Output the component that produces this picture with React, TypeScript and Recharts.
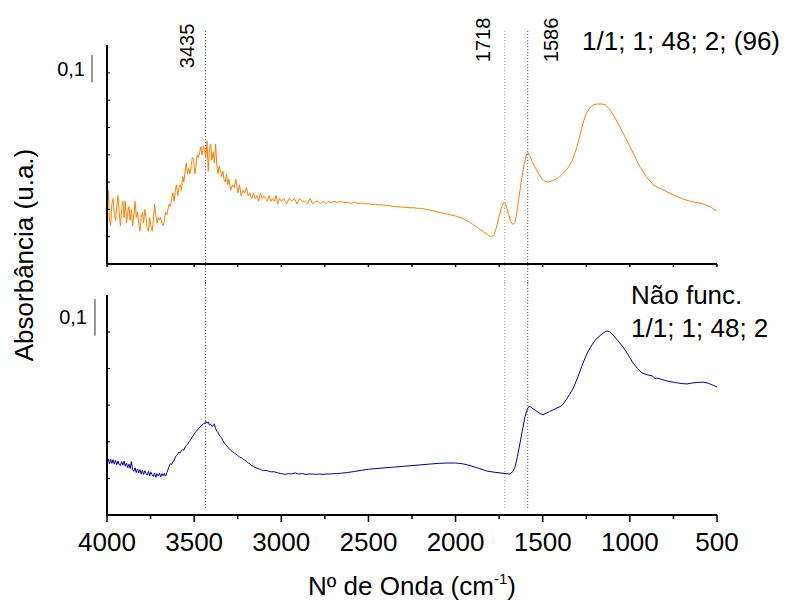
import React from 'react';
import { LineChart, Line, XAxis, YAxis, ReferenceLine } from 'recharts';

// ---- data ----
const xTicks = [4000, 3750, 3500, 3250, 3000, 2750, 2500, 2250, 2000, 1750, 1500, 1250, 1000, 750, 500];
const peakPositions = [3435, 1718, 1586];
const peakLabels = ['3435', '1718', '1586'];
const topYTicks = [0.1, 0.2, 0.3, 0.4, 0.5, 0.6, 0.7];
const bottomYTicks = [0.1, 0.2, 0.3, 0.4, 0.5];
const topAnnotation = '1/1; 1; 48; 2; (96)';
const bottomAnnotation = ['Não func.', '1/1; 1; 48; 2'];
const scaleLabel = '0,1';
const xTitle = 'Nº de Onda (cm';
const xTitleSup = '-1';
const yTitle = 'Absorbância (u.a.)';

// functionalised sample (orange): [wavenumber, absorbance]
const funcSpectrum: [number, number][] = [
  [4000, 0.25], [3993, 0.27], [3986, 0.16], [3979, 0.14], [3972, 0.22], [3965, 0.24], [3958, 0.18], [3951, 0.16],
  [3944, 0.21], [3937, 0.25], [3930, 0.19], [3923, 0.14], [3916, 0.2], [3909, 0.23], [3902, 0.17], [3895, 0.23],
  [3888, 0.15], [3881, 0.19], [3874, 0.21], [3867, 0.16], [3860, 0.2], [3853, 0.14], [3846, 0.18], [3839, 0.23],
  [3832, 0.17], [3825, 0.19], [3818, 0.15], [3811, 0.12], [3804, 0.17], [3797, 0.19], [3790, 0.15], [3783, 0.2],
  [3776, 0.17], [3769, 0.13], [3762, 0.12], [3755, 0.17], [3748, 0.14], [3741, 0.12], [3734, 0.16], [3727, 0.22],
  [3720, 0.18], [3713, 0.15], [3706, 0.17], [3699, 0.16], [3692, 0.17], [3685, 0.15], [3678, 0.14], [3671, 0.16],
  [3664, 0.19], [3657, 0.18], [3650, 0.2], [3643, 0.22], [3636, 0.21], [3629, 0.24], [3622, 0.26], [3615, 0.23],
  [3608, 0.27], [3601, 0.29], [3594, 0.25], [3587, 0.28], [3580, 0.29], [3573, 0.27], [3566, 0.32], [3559, 0.3],
  [3552, 0.34], [3545, 0.37], [3538, 0.33], [3531, 0.35], [3524, 0.33], [3517, 0.36], [3510, 0.39], [3503, 0.38],
  [3496, 0.33], [3489, 0.36], [3482, 0.4], [3475, 0.39], [3468, 0.41], [3461, 0.43], [3454, 0.4], [3447, 0.43],
  [3440, 0.42], [3433, 0.39], [3426, 0.45], [3419, 0.34], [3412, 0.42], [3405, 0.44], [3398, 0.38], [3391, 0.41],
  [3384, 0.37], [3377, 0.44], [3370, 0.36], [3363, 0.33], [3356, 0.36], [3349, 0.34], [3342, 0.32], [3335, 0.34],
  [3328, 0.31], [3321, 0.3], [3314, 0.33], [3307, 0.29], [3300, 0.31], [3290, 0.27], [3280, 0.29], [3270, 0.28],
  [3260, 0.31], [3250, 0.26], [3240, 0.29], [3230, 0.25], [3220, 0.27], [3210, 0.26], [3200, 0.28], [3190, 0.25],
  [3180, 0.26], [3170, 0.24], [3160, 0.26], [3150, 0.24], [3140, 0.25], [3130, 0.23], [3120, 0.26], [3110, 0.24],
  [3100, 0.25], [3090, 0.24], [3080, 0.23], [3070, 0.25], [3060, 0.23], [3050, 0.24], [3040, 0.23], [3030, 0.25],
  [3020, 0.22], [3010, 0.24], [3000, 0.23], [2985, 0.24], [2970, 0.22], [2955, 0.24], [2940, 0.23], [2925, 0.24],
  [2910, 0.22], [2895, 0.24], [2880, 0.23], [2865, 0.23], [2850, 0.22], [2835, 0.24], [2820, 0.22], [2805, 0.23],
  [2790, 0.23], [2775, 0.22], [2760, 0.23], [2745, 0.22], [2730, 0.23], [2715, 0.225], [2700, 0.23], [2680, 0.225],
  [2660, 0.23], [2640, 0.225], [2620, 0.226], [2600, 0.222], [2580, 0.226], [2560, 0.222], [2540, 0.224], [2520, 0.22],
  [2500, 0.221], [2480, 0.218], [2460, 0.219], [2440, 0.216], [2420, 0.217], [2400, 0.214], [2380, 0.214], [2360, 0.211],
  [2340, 0.211], [2320, 0.209], [2300, 0.208], [2280, 0.207], [2260, 0.206], [2240, 0.206], [2220, 0.204], [2200, 0.204],
  [2150, 0.198], [2100, 0.19], [2050, 0.183], [2000, 0.176], [1960, 0.167], [1920, 0.153], [1880, 0.136], [1840, 0.118],
  [1810, 0.104], [1795, 0.099], [1780, 0.107], [1765, 0.135], [1750, 0.175], [1735, 0.21], [1722, 0.226], [1710, 0.215],
  [1698, 0.186], [1685, 0.158], [1672, 0.145], [1660, 0.152], [1648, 0.19], [1635, 0.25], [1620, 0.315], [1605, 0.37],
  [1592, 0.403], [1584, 0.407], [1575, 0.398], [1560, 0.375], [1544, 0.355], [1525, 0.333], [1505, 0.312], [1485, 0.302],
  [1470, 0.3], [1440, 0.306], [1410, 0.316], [1385, 0.33], [1355, 0.352], [1330, 0.38], [1303, 0.429], [1285, 0.475],
  [1269, 0.516], [1250, 0.552], [1229, 0.571], [1210, 0.583], [1190, 0.586], [1160, 0.586], [1140, 0.583], [1114, 0.564],
  [1085, 0.535], [1057, 0.502], [1030, 0.468], [999, 0.429], [970, 0.392], [942, 0.355], [905, 0.32], [867, 0.29],
  [855, 0.287], [845, 0.282], [820, 0.275], [787, 0.264], [740, 0.25], [695, 0.238], [650, 0.229], [598, 0.223],
  [570, 0.218], [540, 0.21], [500, 0.194],
];

// non-functionalised sample (navy): [wavenumber, absorbance]
const plainSpectrum: [number, number][] = [
  [4000, 0.146], [3993, 0.153], [3986, 0.14], [3979, 0.152], [3972, 0.141], [3965, 0.151], [3958, 0.139], [3951, 0.149],
  [3944, 0.137], [3937, 0.147], [3930, 0.138], [3923, 0.135], [3916, 0.146], [3909, 0.136], [3902, 0.147], [3895, 0.133],
  [3888, 0.142], [3881, 0.129], [3874, 0.139], [3867, 0.127], [3860, 0.146], [3853, 0.124], [3846, 0.119], [3839, 0.129],
  [3832, 0.116], [3825, 0.126], [3818, 0.115], [3811, 0.124], [3804, 0.112], [3797, 0.123], [3790, 0.111], [3783, 0.121],
  [3776, 0.113], [3769, 0.109], [3762, 0.119], [3755, 0.107], [3748, 0.117], [3741, 0.11], [3734, 0.105], [3727, 0.115],
  [3720, 0.103], [3713, 0.113], [3706, 0.106], [3699, 0.114], [3692, 0.104], [3685, 0.113], [3678, 0.107], [3671, 0.114],
  [3664, 0.106], [3657, 0.115], [3650, 0.124], [3643, 0.134], [3636, 0.14], [3629, 0.138], [3622, 0.146], [3615, 0.148],
  [3608, 0.158], [3601, 0.163], [3594, 0.166], [3587, 0.172], [3580, 0.17], [3573, 0.176], [3566, 0.178], [3559, 0.177],
  [3552, 0.186], [3545, 0.19], [3538, 0.193], [3531, 0.199], [3524, 0.203], [3517, 0.208], [3510, 0.214], [3503, 0.218],
  [3496, 0.224], [3489, 0.228], [3482, 0.232], [3475, 0.236], [3468, 0.24], [3461, 0.242], [3454, 0.246], [3447, 0.249],
  [3440, 0.25], [3433, 0.256], [3426, 0.251], [3419, 0.254], [3412, 0.246], [3405, 0.248], [3398, 0.242], [3391, 0.244],
  [3384, 0.249], [3377, 0.236], [3370, 0.229], [3363, 0.225], [3356, 0.218], [3349, 0.214], [3342, 0.21], [3335, 0.203],
  [3328, 0.198], [3321, 0.193], [3314, 0.19], [3307, 0.185], [3300, 0.182], [3290, 0.177], [3280, 0.173], [3270, 0.17],
  [3260, 0.166], [3250, 0.163], [3240, 0.158], [3230, 0.157], [3220, 0.152], [3210, 0.15], [3200, 0.147], [3190, 0.142],
  [3180, 0.14], [3170, 0.135], [3160, 0.133], [3150, 0.13], [3140, 0.128], [3130, 0.126], [3120, 0.125], [3110, 0.122],
  [3100, 0.122], [3080, 0.121], [3060, 0.118], [3040, 0.118], [3020, 0.115], [3000, 0.113], [2980, 0.111], [2960, 0.113],
  [2940, 0.112], [2920, 0.115], [2900, 0.112], [2880, 0.113], [2860, 0.111], [2840, 0.112], [2820, 0.112], [2800, 0.111],
  [2780, 0.112], [2760, 0.111], [2740, 0.112], [2720, 0.112], [2700, 0.113], [2680, 0.113], [2660, 0.114], [2620, 0.116],
  [2580, 0.119], [2540, 0.122], [2500, 0.125], [2450, 0.127], [2400, 0.129], [2350, 0.131], [2300, 0.133], [2250, 0.135],
  [2200, 0.137], [2150, 0.139], [2100, 0.141], [2050, 0.142], [2000, 0.142], [1960, 0.14], [1917, 0.135], [1870, 0.128],
  [1820, 0.12], [1780, 0.117], [1745, 0.115], [1710, 0.113], [1688, 0.112], [1672, 0.118], [1659, 0.131], [1645, 0.16],
  [1630, 0.197], [1615, 0.235], [1602, 0.268], [1588, 0.29], [1578, 0.297], [1568, 0.295], [1555, 0.29], [1544, 0.287],
  [1530, 0.282], [1515, 0.277], [1498, 0.274], [1480, 0.278], [1460, 0.283], [1441, 0.287], [1420, 0.292], [1400, 0.296],
  [1384, 0.302], [1365, 0.315], [1345, 0.33], [1326, 0.345], [1300, 0.375], [1269, 0.415], [1245, 0.442], [1217, 0.465],
  [1195, 0.48], [1171, 0.49], [1150, 0.498], [1131, 0.503], [1115, 0.5], [1097, 0.492], [1070, 0.477], [1039, 0.459],
  [1010, 0.438], [982, 0.415], [955, 0.4], [930, 0.388], [900, 0.383], [873, 0.38], [865, 0.378], [856, 0.372],
  [845, 0.374], [820, 0.371], [787, 0.366], [740, 0.362], [700, 0.359], [672, 0.358], [650, 0.36], [620, 0.362],
  [580, 0.363], [550, 0.36], [520, 0.354], [500, 0.35],
];

// ---- styling / layout ----
const FONT = 'Liberation Sans, Arial, Helvetica, sans-serif';
const ORANGE = '#FF8000';
const NAVY = '#0000A0';
const W = 793;
const YAXIS_W = 10;
const MARGIN_L = 107 - YAXIS_W;
const MARGIN_R = 76;
const topData = funcSpectrum.map(([wn, a]) => ({ wn, a }));
const bottomData = plainSpectrum.map(([wn, a]) => ({ wn, a }));

const peakColors = ['#444', '#999', '#444'];
const peakLabelDx = [-18, -22, 23];
const peakLabelDy = [37, 31, 31];

const SmallTick = (props: any) => {
  const { x, y } = props;
  return <line x1={x} x2={x} y1={y} y2={y + 3} stroke="#000" strokeWidth={1.5} />;
};

const MainTick = (props: any) => {
  const { x, y, payload } = props;
  const v = payload.value;
  const major = v % 500 === 0;
  return (
    <g>
      <line x1={x} x2={x} y1={y} y2={y + (major ? 7 : 4)} stroke="#000" strokeWidth={1.5} />
      {major && (
        <text x={x} y={y + 36} textAnchor="middle" fontSize={26} fontFamily={FONT} fill="#000">
          {v}
        </text>
      )}
    </g>
  );
};

const InnerYTick = (props: any) => {
  const { x, y } = props;
  return <line x1={x} x2={x + 3} y1={y} y2={y} stroke="#000" strokeWidth={1} />;
};

const peakLabel = (i: number) => (props: any) => {
  const vb = props.viewBox || {};
  const cx = vb.x + peakLabelDx[i];
  const ey = vb.y + peakLabelDy[i];
  return (
    <text
      x={cx}
      y={ey}
      dy="0.35em"
      transform={`rotate(-90 ${cx} ${ey})`}
      textAnchor="start"
      fontSize={20}
      fontFamily={FONT}
      fill="#000"
    >
      {peakLabels[i]}
    </text>
  );
};

export default function App() {
  return (
    <div style={{ position: 'absolute', left: 0, top: 0, width: W, height: 604, background: '#fff', fontFamily: FONT }}>
      {/* top panel */}
      <div style={{ position: 'absolute', left: 0, top: 0 }}>
        <LineChart width={W} height={285} data={topData} margin={{ top: 45, right: MARGIN_R, bottom: 5, left: MARGIN_L }}>
          <XAxis
            dataKey="wn"
            type="number"
            domain={[500, 4000]}
            reversed
            allowDataOverflow
            ticks={xTicks}
            interval={0}
            height={16}
            tickSize={0}
            tickMargin={0}
            tickLine={false}
            axisLine={{ stroke: '#000', strokeWidth: 2 }}
            tick={<SmallTick />}
          />
          <YAxis
            type="number"
            domain={[0, 0.8022]}
            allowDataOverflow
            ticks={topYTicks}
            interval={0}
            width={YAXIS_W}
            tickSize={0}
            tickMargin={0}
            tickLine={false}
            tick={<InnerYTick />}
            axisLine={{ stroke: '#000', strokeWidth: 2 }}
          />
          {peakPositions.map((p, i) => (
            <ReferenceLine
              key={p}
              segment={[{ x: p, y: 0.853 }, { x: p, y: -0.08 }]}
              ifOverflow="visible"
              stroke={peakColors[i]}
              strokeWidth={1}
              strokeDasharray="1 2"
              label={peakLabel(i)}
            />
          ))}
          <ReferenceLine
            segment={[{ x: 4086, y: 0.665 }, { x: 4086, y: 0.765 }]}
            ifOverflow="visible"
            stroke="#333"
            strokeWidth={1}
            label={{ value: scaleLabel, position: 'left', offset: 7, fontSize: 20, fill: '#000', fontFamily: FONT }}
          />
          <Line dataKey="a" type="linear" stroke={ORANGE} strokeWidth={1} dot={false} isAnimationActive={false} />
        </LineChart>
      </div>

      {/* bottom panel */}
      <div style={{ position: 'absolute', left: 0, top: 280 }}>
        <LineChart width={W} height={324} data={bottomData} margin={{ top: 15, right: MARGIN_R, bottom: 0, left: MARGIN_L }}>
          <XAxis
            dataKey="wn"
            type="number"
            domain={[500, 4000]}
            reversed
            allowDataOverflow
            ticks={xTicks}
            interval={0}
            height={89}
            tickSize={0}
            tickMargin={0}
            tickLine={false}
            axisLine={{ stroke: '#000', strokeWidth: 2 }}
            tick={<MainTick />}
          />
          <YAxis
            type="number"
            domain={[0, 0.601]}
            allowDataOverflow
            ticks={bottomYTicks}
            interval={0}
            width={YAXIS_W}
            tickSize={0}
            tickMargin={0}
            tickLine={false}
            tick={<InnerYTick />}
            axisLine={{ stroke: '#000', strokeWidth: 2 }}
          />
          {peakPositions.map((p, i) => (
            <ReferenceLine
              key={p}
              segment={[{ x: p, y: 0.645 }, { x: p, y: 0.019 }]}
              ifOverflow="visible"
              stroke={peakColors[i]}
              strokeWidth={1}
              strokeDasharray="1 2"
            />
          ))}
          <ReferenceLine
            segment={[{ x: 4069, y: 0.49 }, { x: 4069, y: 0.59 }]}
            ifOverflow="visible"
            stroke="#333"
            strokeWidth={1}
            label={{ value: scaleLabel, position: 'left', offset: 8, fontSize: 20, fill: '#000', fontFamily: FONT }}
          />
          <Line dataKey="a" type="linear" stroke={NAVY} strokeWidth={1} dot={false} isAnimationActive={false} />
        </LineChart>
      </div>

      {/* titles and annotations */}
      <svg width={W} height={604} style={{ position: 'absolute', left: 0, top: 0, pointerEvents: 'none' }}>
        <text x={33} y={255} transform="rotate(-90 33 255)" textAnchor="middle" fontSize={26} fontFamily={FONT} fill="#000">
          {yTitle}
        </text>
        <text x={412} y={595} textAnchor="middle" fontSize={26} fontFamily={FONT} fill="#000">
          {xTitle}
          <tspan fontSize={15} dy={-11}>{xTitleSup}</tspan>
          <tspan dy={11}>)</tspan>
        </text>
        <text x={582} y={50} fontSize={26} fontFamily={FONT} fill="#000">
          {topAnnotation}
        </text>
        <text x={631} y={304} fontSize={26} fontFamily={FONT} fill="#000">
          {bottomAnnotation[0]}
        </text>
        <text x={631} y={337} fontSize={26} fontFamily={FONT} fill="#000">
          {bottomAnnotation[1]}
        </text>
      </svg>
    </div>
  );
}
